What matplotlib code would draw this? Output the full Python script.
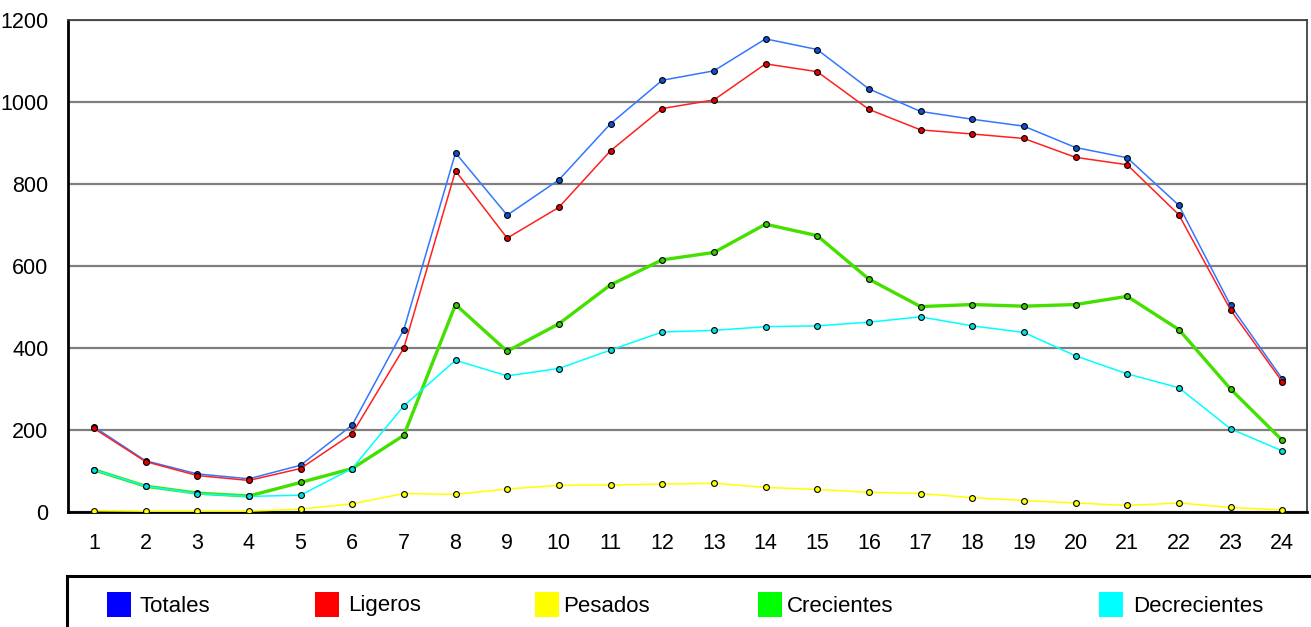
import matplotlib.pyplot as plt
from matplotlib.patches import Rectangle

hours = list(range(1, 25))

totales = [208, 125, 93, 81, 114, 212, 445, 876, 724, 810, 947, 1053,
           1076, 1154, 1128, 1032, 977, 958, 941, 889, 864, 748, 504, 325]
ligeros = [204, 123, 89, 77, 106, 191, 400, 832, 668, 743, 881, 984,
           1005, 1093, 1074, 982, 932, 922, 911, 865, 847, 725, 493, 318]
pesados = [3, 2, 2, 2, 7, 20, 45, 43, 56, 65, 66, 68,
           70, 60, 55, 48, 45, 35, 28, 22, 16, 22, 11, 5]
crecientes = [103, 63, 46, 39, 72, 106, 187, 506, 392, 459, 554, 615,
              633, 702, 674, 568, 501, 506, 502, 506, 526, 445, 300, 175]
decrecientes = [103, 63, 45, 38, 41, 106, 259, 370, 332, 350, 395, 439,
                443, 452, 454, 463, 476, 454, 438, 381, 337, 303, 203, 149]

names = ['Totales', 'Ligeros', 'Pesados', 'Crecientes', 'Decrecientes']
series = [totales, ligeros, pesados, crecientes, decrecientes]
line_colors = ['#3377ff', '#ff2020', '#ffff00', '#44e000', '#00ffff']
marker_colors = ['#1050d0', '#e00000', '#ffff00', '#33cc00', '#00e0e0']
legend_colors = ['#0000ff', '#ff0000', '#ffff00', '#00ff00', '#00ffff']
line_widths = [1.1, 1.1, 1.1, 2.4, 1.1]

plt.rcParams['font.family'] = ['Liberation Sans', 'DejaVu Sans']

W, H = 1311, 627
fig = plt.figure(figsize=(W / 100, H / 100), dpi=100)
ax = fig.add_axes([68 / W, 1 - 512 / H, (1307 - 68) / W, 492 / H])

for vals, lc, mc, lw in zip(series, line_colors, marker_colors, line_widths):
    ax.plot(hours, vals, color=lc, linewidth=lw, marker='o', markersize=4.2,
            markerfacecolor=mc, markeredgecolor='black', markeredgewidth=0.8,
            zorder=3)

ax.set_xlim(0.5, 24.48)
ax.set_ylim(0, 1200)
ax.set_xticks(hours)
ax.set_yticks(range(0, 1201, 200))
ax.yaxis.grid(True, color='#7f7f7f', linewidth=1.6)
ax.set_axisbelow(True)
ax.tick_params(length=0, labelsize=15.5)
ax.tick_params(axis='x', pad=15)
ax.tick_params(axis='y', pad=14)
for side in ['top', 'right']:
    ax.spines[side].set_color('#404040')
    ax.spines[side].set_linewidth(1.3)
for side in ['left', 'bottom']:
    ax.spines[side].set_color('black')
    ax.spines[side].set_linewidth(2)

# legend box, runs off the right and bottom edge like the original
fig.add_artist(Rectangle((67 / W, -0.1), 1.2, (1 - 576 / H) + 0.1,
                         transform=fig.transFigure, fill=False,
                         edgecolor='black', linewidth=2.2))
box_x = [107, 315, 535, 758, 1099]
text_x = [140, 348, 563, 787, 1133]
for name, c, bx, tx in zip(names, legend_colors, box_x, text_x):
    fig.add_artist(Rectangle((bx / W, 1 - 617 / H), 24 / W, 25 / H,
                             transform=fig.transFigure, facecolor=c,
                             edgecolor='none'))
    fig.text(tx / W, 1 - 606 / H, name, fontsize=16, va='center', ha='left')

plt.savefig('out.png', dpi=100)
